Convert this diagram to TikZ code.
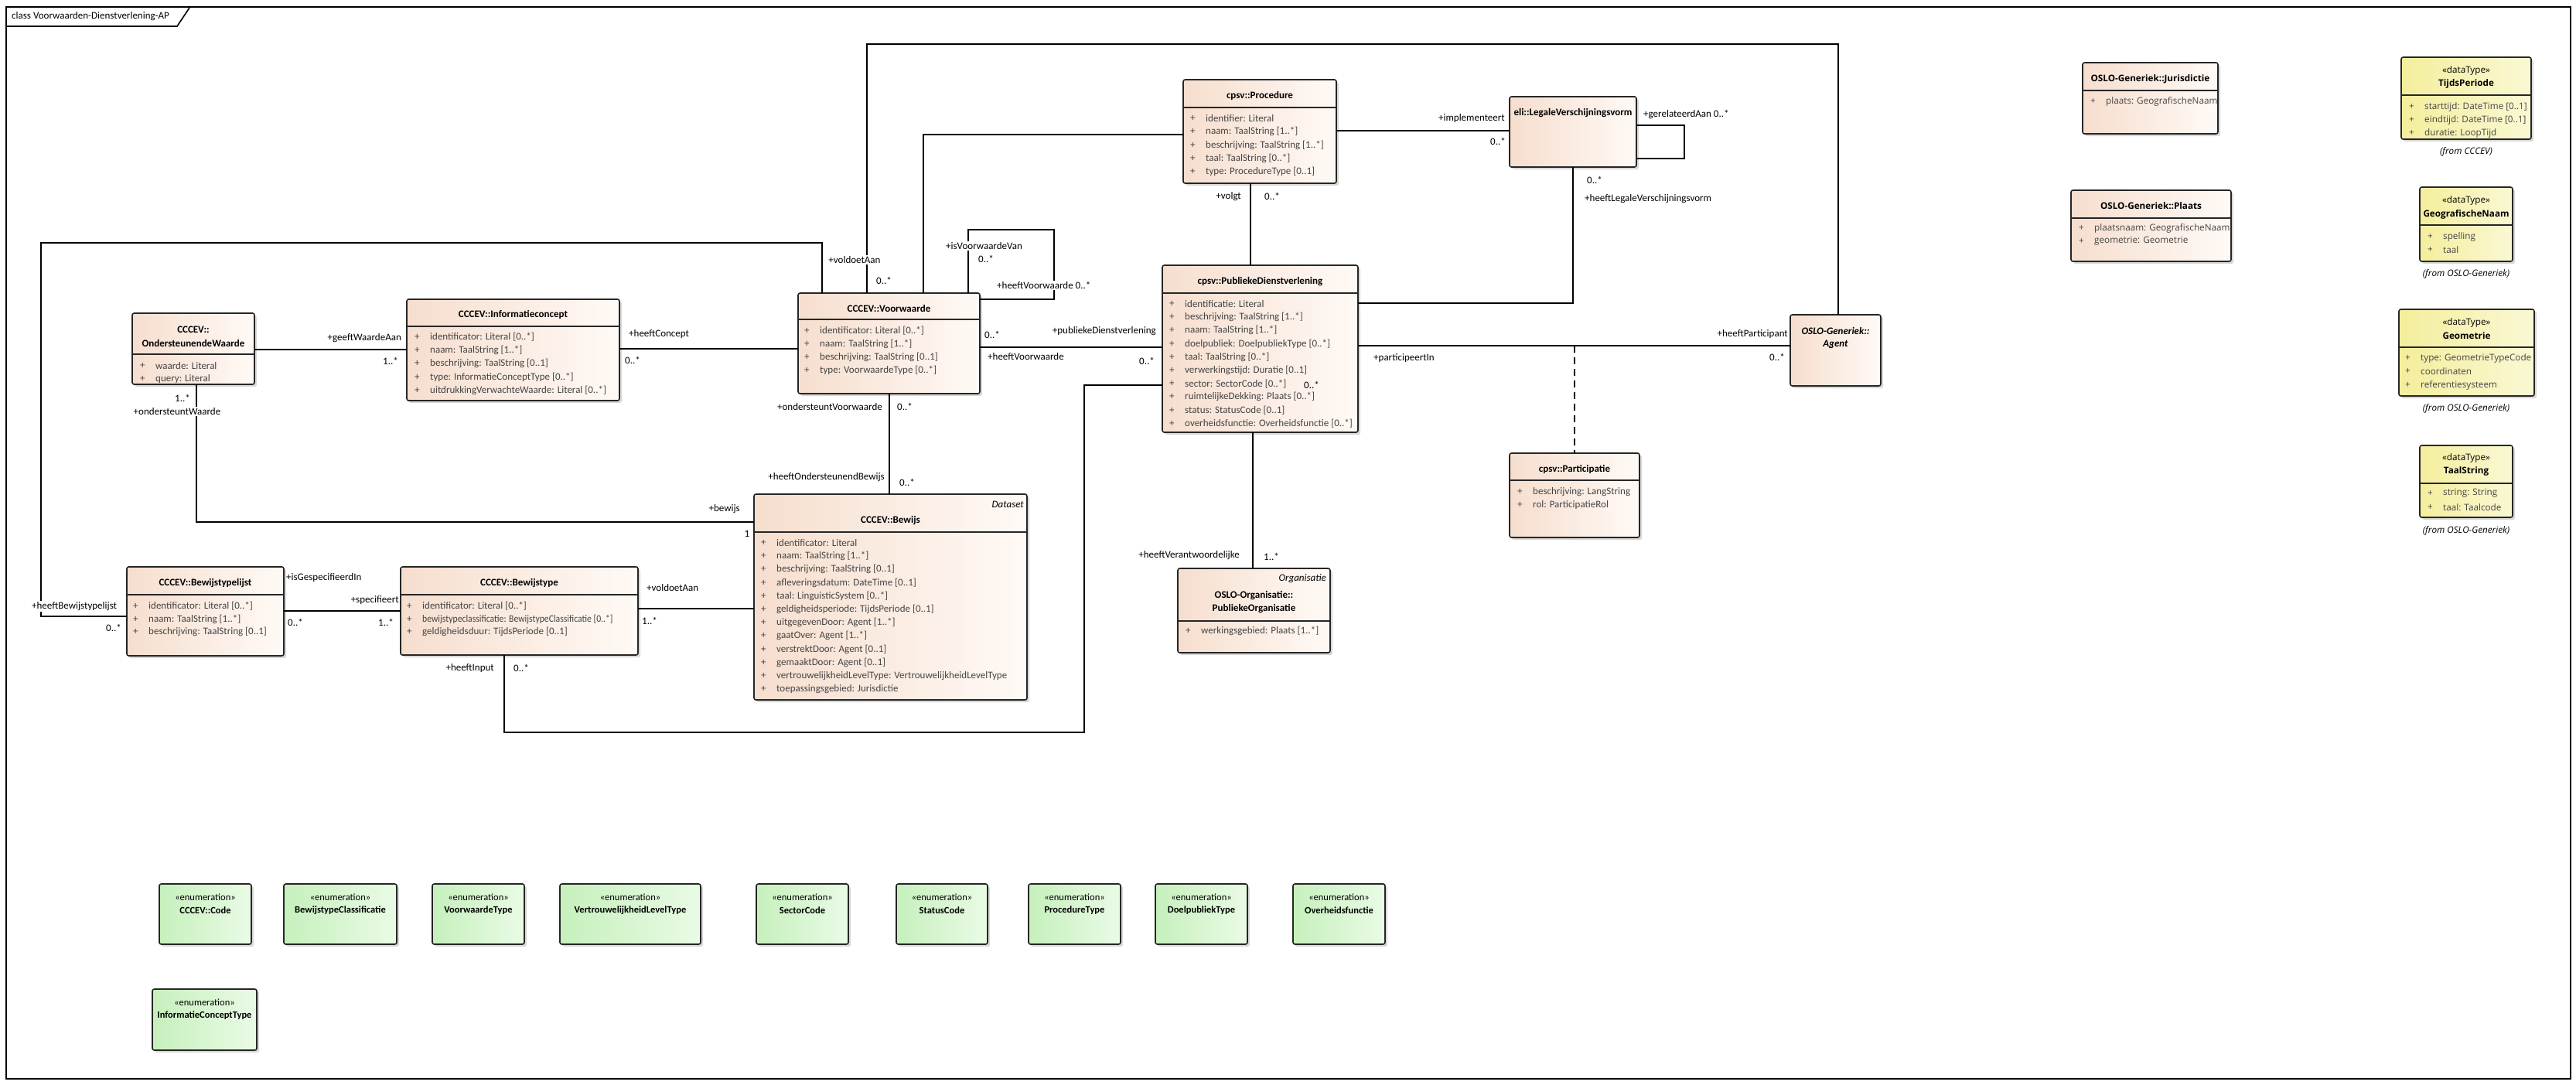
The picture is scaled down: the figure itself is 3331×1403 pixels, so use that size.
\documentclass[tikz,border=0pt]{standalone}
\usepackage{fontspec}
\setmainfont{Carlito}
\newfontfamily\rfont{Open Sans}
\usepackage{graphicx}
\usetikzlibrary{shadows}
\definecolor{clsL}{RGB}{246,222,206}
\definecolor{clsR}{RGB}{255,250,246}
\definecolor{dtL}{RGB}{244,238,156}
\definecolor{dtR}{RGB}{250,248,212}
\definecolor{enL}{RGB}{198,240,188}
\definecolor{enR}{RGB}{234,251,230}
\definecolor{attrc}{RGB}{68,68,68}
\newcommand\fa{\fontsize{13}{15}\selectfont}
\newcommand\fr{\rfont\fontsize{11.7}{14}\selectfont}
\newcommand\fe{\fontsize{12.5}{14}\selectfont}
\newcounter{lb}
\tikzset{
 umlcls/.style={draw=black!85, line width=1.6pt, rounded corners=2.5pt, left color=clsL, right color=clsR,
   drop shadow={shadow xshift=3pt, shadow yshift=-3pt, opacity=0.3, fill=black!50}},
 umldt/.style={umlcls, left color=dtL, right color=dtR},
 umlen/.style={umlcls, left color=enL, right color=enR},
 sepline/.style={line width=1.4pt, draw=black!85},
 attr/.style={inner sep=0pt, font=\fa, text=attrc},
 rattr/.style={inner sep=0pt, font=\fr, text=attrc},
 ttl/.style={inner sep=0pt, font=\fa\bfseries},
 rttl/.style={inner sep=0pt, font=\fr\bfseries},
 rtxt/.style={inner sep=0pt, font=\fr},
 etxt/.style={inner sep=0pt, font=\fe},
 lab/.style={inner sep=1pt, font=\fa},
 labw/.style={lab, fill=white},
 conn/.style={line width=1.5pt, draw=black},
}
\newcommand\umlbox[6]{\node[#2, anchor=north west, minimum width={#5-#3}, minimum height={#6-#4}, inner sep=0pt, outer sep=0pt] (#1) at (#3,#4) {};}
\newcommand\umlsep[2]{\draw[sepline] (#1.west |- 0,#2) -- (#1.east |- 0,#2);}
\newcommand\umlattrs[6]{%
 \foreach \t [count=\i] in {#6} {
   \node[#1, anchor=west] (#2p\i) at (#3, {#4+(\i-1)*#5}) {+};
   \node[#1, anchor=west] (#2a\i) at ({#3+20}, {#4+(\i-1)*#5}) {\t};
 }}
\newcommand\umllab[4][lab]{\stepcounter{lb}\node[#1] (lb\arabic{lb}) at (#2,#3) {#4};}
\newcommand\umlenum[6]{%
 \umlbox{#1}{umlen}{#2}{#3}{#4}{#5}
 \node[etxt] (#1s) at ({(#2+#4)/2}, {#3+17}) {«enumeration»};
 \node[etxt, font=\fe\bfseries] (#1t) at ({(#2+#4)/2}, {#3+34}) {#6};}
\begin{document}
\begin{tikzpicture}[x=1pt,y=-1pt]
\useasboundingbox (0,0) rectangle (3331,1403);
\fill[white] (0,0) rectangle (3331,1403);
% frame
\node[draw, line width=2pt, anchor=north west, minimum width=3316pt, minimum height=1386pt, inner sep=0pt, outer sep=0pt] (frame) at (8,9) {};
\draw[line width=1.6pt] (frame.west |- 0,34) -- (229,34) -- (245,10);
\node[anchor=west, font=\fa, inner sep=0pt] (frametitle) at (15,21) {class Voorwaarden-Dienstverlening-AP};

% boxes
\umlbox{ow}{umlcls}{171}{405}{329}{497}
\umlbox{ic}{umlcls}{526}{387}{801}{518}
\umlbox{vw}{umlcls}{1032}{379}{1267}{509}
\umlbox{pr}{umlcls}{1530}{103}{1728}{237}
\umlbox{pd}{umlcls}{1503}{343}{1756}{559}
\umlbox{lv}{umlcls}{1952}{125}{2116}{216}
\umlbox{ag}{umlcls}{2315}{407}{2432}{499}
\umlbox{pa}{umlcls}{1952}{586}{2120}{695}
\umlbox{bw}{umlcls}{975}{639}{1328}{905}
\umlbox{btl}{umlcls}{164}{733}{367}{848}
\umlbox{bt}{umlcls}{518}{733}{825}{847}
\umlbox{og}{umlcls}{1523}{735}{1720}{844}
\umlbox{ju}{umlcls}{2693}{81}{2868}{173}
\umlbox{pl}{umlcls}{2678}{246}{2885}{338}
\umlbox{tp}{umldt}{3105}{74}{3273}{180}
\umlbox{gn}{umldt}{3129}{242}{3249}{338}
\umlbox{ge}{umldt}{3102}{400}{3277}{512}
\umlbox{ts}{umldt}{3129}{576}{3249}{669}

\umlsep{ow}{458}\umlsep{ic}{422}\umlsep{vw}{413}\umlsep{pr}{139}\umlsep{pd}{379}
\umlsep{pa}{621}\umlsep{bw}{688}\umlsep{btl}{769}\umlsep{bt}{769}\umlsep{og}{803}
\umlsep{ju}{117}\umlsep{pl}{282}\umlsep{tp}{123}\umlsep{gn}{291}\umlsep{ge}{449}\umlsep{ts}{625}

% titles
\node[ttl] (owt1) at (250,426) {CCCEV::};
\node[ttl] (owt2) at (250,444) {OndersteunendeWaarde};
\node[ttl] (ict) at (663.5,407) {CCCEV::Informatieconcept};
\node[ttl] (vwt) at (1149.5,399) {CCCEV::Voorwaarde};
\node[ttl] (prt) at (1629,124) {cpsv::Procedure};
\node[ttl] (pdt) at (1629.5,364) {cpsv::PubliekeDienstverlening};
\node[ttl] (lvt) at (2034,146) {eli::LegaleVerschijningsvorm};
\node[ttl, font=\fa\bfseries\itshape] (agt1) at (2373.5,428) {OSLO-Generiek::};
\node[ttl, font=\fa\bfseries\itshape] (agt2) at (2373.5,445) {Agent};
\node[ttl] (pat) at (2036,607) {cpsv::Participatie};
\node[ttl, font=\fa\itshape, anchor=east] (bws) at (1324,652) {Dataset};
\node[ttl] (bwt) at (1151.5,673) {CCCEV::Bewijs};
\node[ttl] (btlt) at (265.5,754) {CCCEV::Bewijstypelijst};
\node[ttl] (btt) at (671.5,754) {CCCEV::Bewijstype};
\node[ttl, font=\fa\itshape, anchor=east] (ogs) at (1715,748) {Organisatie};
\node[ttl] (ogt1) at (1621.5,770) {OSLO-Organisatie::};
\node[ttl] (ogt2) at (1621.5,787) {PubliekeOrganisatie};
\node[rttl] (jut) at (2780.5,102) {OSLO-Generiek::Jurisdictie};
\node[rttl] (plt) at (2781.5,266) {OSLO-Generiek::Plaats};
\node[rtxt] (tps) at (3189,91) {«dataType»};
\node[rttl] (tpt) at (3189,108) {TijdsPeriode};
\node[rtxt, font=\fr\itshape] (tpf) at (3189,196) {(from CCCEV)};
\node[rtxt] (gns) at (3189,259) {«dataType»};
\node[rttl] (gnt) at (3189,277) {GeografischeNaam};
\node[rtxt, font=\fr\itshape] (gnf) at (3189,354) {(from OSLO-Generiek)};
\node[rtxt] (ges) at (3189.5,417) {«dataType»};
\node[rttl] (get) at (3189.5,434) {Geometrie};
\node[rtxt, font=\fr\itshape] (gef) at (3189,528) {(from OSLO-Generiek)};
\node[rtxt] (tss) at (3189,592) {«dataType»};
\node[rttl] (tst) at (3189,609) {TaalString};
\node[rtxt, font=\fr\itshape] (tsf) at (3189,686) {(from OSLO-Generiek)};

% attributes
\umlattrs{attr}{ow}{181}{473}{17}{{waarde: Literal},{query: Literal}}
\umlattrs{attr}{ic}{536}{436}{17.2}{{identificator: Literal [0..*]},{naam: TaalString [1..*]},{beschrijving: TaalString [0..1]},{type: InformatieConceptType [0..*]},{uitdrukkingVerwachteWaarde: Literal [0..*]}}
\umlattrs{attr}{vw}{1040}{428}{17}{{identificator: Literal [0..*]},{naam: TaalString [1..*]},{beschrijving: TaalString [0..1]},{type: VoorwaardeType [0..*]}}
\umlattrs{attr}{pr}{1539}{153}{17.3}{{identifier: Literal},{naam: TaalString [1..*]},{beschrijving: TaalString [1..*]},{taal: TaalString [0..*]},{type: ProcedureType [0..1]}}
\umlattrs{attr}{pd}{1512}{393}{17.2}{{identificatie: Literal},{beschrijving: TaalString [1..*]},{naam: TaalString [1..*]},{doelpubliek: DoelpubliekType [0..*]},{taal: TaalString [0..*]},{verwerkingstijd: Duratie [0..1]},{sector: SectorCode [0..*]},{ruimtelijkeDekking: Plaats [0..*]},{status: StatusCode [0..1]},{overheidsfunctie: Overheidsfunctie [0..*]}}
\umlattrs{attr}{pa}{1962}{636}{17}{{beschrijving: LangString},{rol: ParticipatieRol}}
\umlattrs{attr}{bw}{984}{702}{17.2}{{identificator: Literal},{naam: TaalString [1..*]},{beschrijving: TaalString [0..1]},{afleveringsdatum: DateTime [0..1]},{taal: LinguisticSystem [0..*]},{geldigheidsperiode: TijdsPeriode [0..1]},{uitgegevenDoor: Agent [1..*]},{gaatOver: Agent [1..*]},{verstrektDoor: Agent [0..1]},{gemaaktDoor: Agent [0..1]},{vertrouwelijkheidLevelType: VertrouwelijkheidLevelType},{toepassingsgebied: Jurisdictie}}
\umlattrs{attr}{btl}{172}{784}{16.5}{{identificator: Literal [0..*]},{naam: TaalString [1..*]},{beschrijving: TaalString [0..1]}}
\umlattrs{attr}{bt}{526}{784}{16.5}{{identificator: Literal [0..*]},{\scalebox{0.9}[1]{bewijstypeclassificatie: BewijstypeClassificatie [0..*]}},{geldigheidsduur: TijdsPeriode [0..1]}}
\umlattrs{attr}{og}{1533}{816}{17}{{werkingsgebied: Plaats [1..*]}}
\umlattrs{rattr}{ju}{2703}{131}{17}{{plaats: GeografischeNaam}}
\umlattrs{rattr}{pl}{2688}{295}{17}{{plaatsnaam: GeografischeNaam},{geometrie: Geometrie}}
\umlattrs{rattr}{tp}{3115}{138}{17}{{starttijd: DateTime [0..1]},{eindtijd: DateTime [0..1]},{duratie: LoopTijd}}
\umlattrs{rattr}{gn}{3139}{306}{17}{{spelling},{taal}}
\umlattrs{rattr}{ge}{3110}{463}{17.5}{{type: GeometrieTypeCode},{coordinaten},{referentiesysteem}}
\umlattrs{rattr}{ts}{3139}{638}{18}{{string: String},{taal: Taalcode}}

% enumerations
\umlenum{ea}{206}{1143}{325}{1221}{CCCEV::Code}
\umlenum{eb}{367}{1143}{513}{1221}{BewijstypeClassificatie}
\umlenum{ec}{559}{1143}{678}{1221}{VoorwaardeType}
\umlenum{ed}{724}{1143}{906}{1221}{VertrouwelijkheidLevelType}
\umlenum{ee}{978}{1143}{1097}{1221}{SectorCode}
\umlenum{ef}{1159}{1143}{1277}{1221}{StatusCode}
\umlenum{eg}{1330}{1143}{1449}{1221}{ProcedureType}
\umlenum{eh}{1494}{1143}{1613}{1221}{DoelpubliekType}
\umlenum{ei}{1672}{1143}{1791}{1221}{Overheidsfunctie}
\umlenum{ej}{197}{1279}{332}{1358}{InformatieConceptType}

% connectors
\draw[conn] (ow.east |- 0,452) -- (ic.west |- 0,452);
\draw[conn] (ow.south -| 254,0) -- (254,675) -- (bw.west |- 0,675);
\draw[conn] (ic.east |- 0,451) -- (vw.west |- 0,451);
\draw[conn] (vw.south -| 1150,0) -- (bw.north -| 1150,0);
\draw[conn] (vw.north -| 1121,0) -- (1121,57) -- (2377,57) -- (ag.north -| 2377,0);
\draw[conn] (vw.north -| 1194,0) -- (1194,174) -- (pr.west |- 0,174);
\draw[conn] (vw.north -| 1252,0) -- (1252,297) -- (1363,297) -- (1363,387) -- (vw.east |- 0,387);
\draw[conn] (vw.east |- 0,449) -- (pd.west |- 0,449);
\draw[conn] (pr.south -| 1617,0) -- (pd.north -| 1617,0);
\draw[conn] (pr.east |- 0,169) -- (lv.west |- 0,169);
\draw[conn] (lv.east |- 0,162) -- (2178,162) -- (2178,205) -- (lv.east |- 0,205);
\draw[conn] (lv.south -| 2034,0) -- (2034,392) -- (pd.east |- 0,392);
\draw[conn] (pd.east |- 0,447) -- (ag.west |- 0,447);
\draw[conn, dash pattern=on 9pt off 6pt] (pa.north |- 0,447) -- (pa.north);
\draw[conn] (pd.south -| 1620,0) -- (og.north -| 1620,0);
\draw[conn] (btl.east |- 0,790) -- (bt.west |- 0,790);
\draw[conn] (bt.east |- 0,787) -- (bw.west |- 0,787);
\draw[conn] (bt.south -| 652,0) -- (652,947) -- (1402,947) -- (1402,498) -- (pd.west |- 0,498);
\draw[conn] (btl.west |- 0,797) -- (53,797) -- (53,314) -- (1063,314) -- (vw.north -| 1063,0);

% labels
\umllab[lab, anchor=east]{520}{437}{+geeftWaardeAan}
\umllab{505}{467}{1..*}
\umllab{236}{515}{1..*}
\umllab[labw]{229}{532}{+ondersteuntWaarde}
\umllab[lab, anchor=east]{958}{658}{+bewijs}
\umllab{966}{690}{1}
\umllab[lab, anchor=west]{812}{432}{+heeftConcept}
\umllab[lab, anchor=west]{807}{466}{0..*}
\umllab[lab, anchor=east]{1142}{526}{+ondersteuntVoorwaarde}
\umllab[lab, anchor=west]{1159}{526}{0..*}
\umllab[lab, anchor=east]{1145}{617}{+heeftOndersteunendBewijs}
\umllab[lab, anchor=west]{1162}{624}{0..*}
\umllab[labw]{1105}{336}{+voldoetAan}
\umllab[lab, anchor=west]{1132}{363}{0..*}
\umllab[labw, anchor=west]{1222}{318}{+isVoorwaardeVan}
\umllab[lab, anchor=west]{1264}{335}{0..*}
\umllab[labw, anchor=west]{1288}{369}{+heeftVoorwaarde 0..*}
\umllab[lab, anchor=west]{1272}{433}{0..*}
\umllab[lab, anchor=west]{1276}{461}{+heeftVoorwaarde}
\umllab[lab, anchor=east]{1496}{428}{+publiekeDienstverlening}
\umllab[lab, anchor=west]{1472}{467}{0..*}
\umllab[lab, anchor=east]{1606}{254}{+volgt}
\umllab[lab, anchor=west]{1634}{254}{0..*}
\umllab[lab, anchor=east]{1947}{153}{+implementeert}
\umllab{1937}{183}{0..*}
\umllab[lab, anchor=west]{2124}{148}{+gerelateerdAan 0..*}
\umllab[lab, anchor=west]{2051}{233}{0..*}
\umllab[lab, anchor=west]{2048}{257}{+heeftLegaleVerschijningsvorm}
\umllab[lab, anchor=east]{2313}{432}{+heeftParticipant}
\umllab{2298}{462}{0..*}
\umllab[lab, anchor=west]{1775}{463}{+participeertIn}
\umllab[lab, anchor=east]{1604}{718}{+heeftVerantwoordelijke}
\umllab[lab, anchor=west]{1633}{720}{1..*}
\umllab[lab, anchor=west]{369}{747}{+isGespecifieerdIn}
\umllab[lab, anchor=west]{371}{805}{0..*}
\umllab[lab, anchor=east]{517}{776}{+specifieert}
\umllab[lab, anchor=east]{510}{805}{1..*}
\umllab[lab, anchor=west]{835}{760}{+voldoetAan}
\umllab[lab, anchor=west]{829}{803}{1..*}
\umllab[lab, anchor=east]{640}{864}{+heeftInput}
\umllab[lab, anchor=west]{663}{864}{0..*}
\umllab[lab, anchor=west]{1685}{498}{0..*}
\umllab[labw, anchor=west]{40}{784}{+heeftBewijstypelijst}
\umllab{147}{812}{0..*}
\end{tikzpicture}
\end{document}
